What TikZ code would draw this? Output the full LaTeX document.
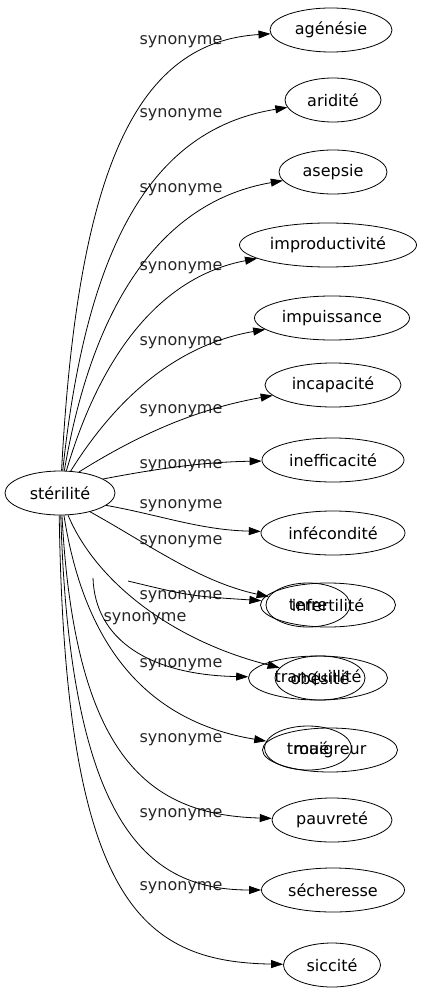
\documentclass[tikz,border=0pt]{standalone}
\usepackage{fontspec}
\setmainfont{DejaVu Sans}
\usepackage{tikz}
\usetikzlibrary{arrows.meta,positioning,shapes.geometric}

\begin{document}
\begin{tikzpicture}[
    x=1pt, y=-1pt,
    wordbox/.style={ellipse, draw, line width=0.8pt, inner sep=2pt,
                    minimum height=44pt, align=center,
                    font=\fontsize{16}{19}\selectfont},
    lbl/.style={inner sep=0pt, font=\fontsize{16}{19}\selectfont, text=black!85},
    arr/.style={-{Triangle[length=12pt, width=8pt]}, line width=0.8pt}
  ]
    \useasboundingbox (0,0) rectangle (428,995);

    % Centre word
    \node[wordbox, minimum width=110pt] (ster) at (60,493) {stérilité};

    % Synonyms
    \node[wordbox, minimum width=122pt] (agen)  at (331,30)  {agénésie};
    \node[wordbox, minimum width=96pt]  (arid)  at (333,100) {aridité};
    \node[wordbox, minimum width=108pt] (asep)  at (333,172) {asepsie};
    \node[wordbox, minimum width=177pt] (impr)  at (328,245) {improductivité};
    \node[wordbox, minimum width=155pt] (impu)  at (332,318) {impuissance};
    \node[wordbox, minimum width=136pt] (inca)  at (333,385) {incapacité};
    \node[wordbox, minimum width=142pt] (ineff) at (333,460) {inefficacité};
    \node[wordbox, minimum width=144pt] (infec) at (333,533) {infécondité};
    \node[wordbox, minimum width=135pt] (infert) at (328,605) {infertilité};
    \node[wordbox, minimum width=84pt]  (terre) at (308,605) {terre};
    \node[wordbox, minimum width=139pt] (tranq) at (318,678) {tranquillité};
    \node[wordbox, minimum width=90pt]  (obes)  at (320,678) {obésité};
    \node[wordbox, minimum width=135pt] (maig)  at (330,750) {maigreur};
    \node[wordbox, minimum width=87pt]  (troue) at (308,748) {troué};
    \node[wordbox, minimum width=120pt] (pauv)  at (332,820) {pauvreté};
    \node[wordbox, minimum width=143pt] (sech)  at (333,890) {sécheresse};
    \node[wordbox, minimum width=97pt]  (sicc)  at (332,965) {siccité};

    % Edge labels
    \node[lbl] (l1)  at (181,42)  {synonyme};
    \node[lbl] (l2)  at (181,115) {synonyme};
    \node[lbl] (l3)  at (181,190) {synonyme};
    \node[lbl] (l4)  at (181,268) {synonyme};
    \node[lbl] (l5)  at (181,343) {synonyme};
    \node[lbl] (l6)  at (181,411) {synonyme};
    \node[lbl] (l7)  at (181,466) {synonyme};
    \node[lbl] (l8)  at (181,506) {synonyme};
    \node[lbl] (l9)  at (181,542) {synonyme};
    \node[lbl] (l10) at (181,597) {synonyme};
    \node[lbl] (l11) at (145,619) {synonyme};
    \node[lbl] (l12) at (181,665) {synonyme};
    \node[lbl] (l13) at (181,740) {synonyme};
    \node[lbl] (l14) at (181,815) {synonyme};
    \node[lbl] (l15) at (181,888) {synonyme};

    % Loose edge ends
    \coordinate (f1) at (128,581);
    \coordinate (f2) at (93,578);

    % Edges
    \draw[arr] (ster.86)  .. controls (78,160)  and (140,42)  .. (agen);
    \draw[arr] (ster.83)  .. controls (88,230)  and (160,128) .. (arid);
    \draw[arr] (ster.79)  .. controls (95,290)  and (170,200) .. (asep);
    \draw[arr] (ster.74)  .. controls (105,340) and (170,275) .. (impr);
    \draw[arr] (ster.64)  .. controls (115,400) and (175,345) .. (impu);
    \draw[arr] (ster.48)  .. controls (130,440) and (190,410) .. (inca);
    \draw[arr] (ster.18)  .. controls (150,470) and (200,462) .. (ineff);
    \draw[arr] (ster.-15) .. controls (160,515) and (200,530) .. (infec);
    \draw[arr] (ster.-32) .. controls (150,545) and (200,582) .. (terre);
    \draw[arr] (f1)       .. controls (190,596) .. (infert);
    \draw[arr] (ster.-70) .. controls (95,580)  and (170,640) .. (obes);
    \draw[arr] (f2)       .. controls (95,640)  and (150,675) .. (tranq);
    \draw[arr] (ster.-80) .. controls (85,650)  and (150,722) .. (troue);
    \draw[arr] (ster.-85) .. controls (75,760)  and (150,815) .. (pauv);
    \draw[arr] (ster.-88) .. controls (70,830)  and (150,890) .. (sech);
    \draw[arr] (ster.-92) .. controls (65,900)  and (140,962) .. (sicc);
\end{tikzpicture}
\end{document}
